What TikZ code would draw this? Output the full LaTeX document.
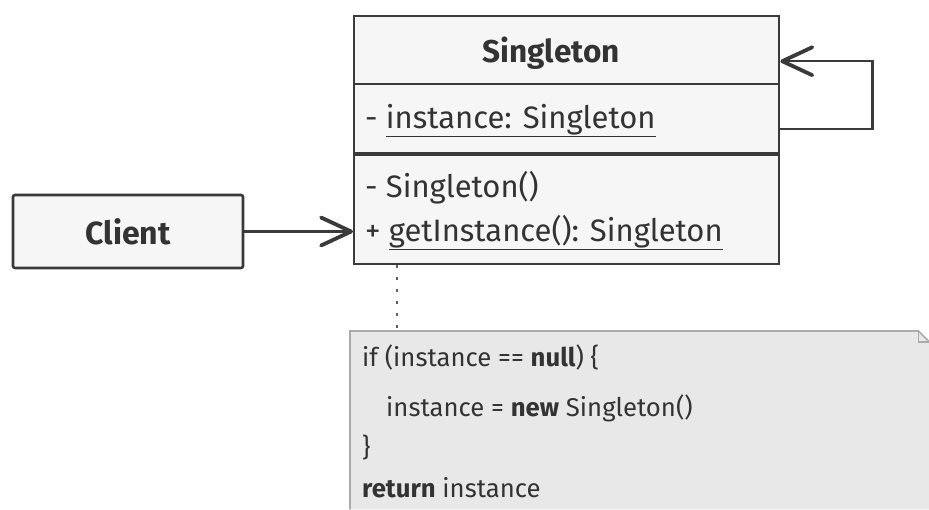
\documentclass[tikz,border=0pt]{standalone}
\usepackage{fontspec}
\setmainfont{Fira Sans}
\usetikzlibrary{arrows.meta}
\definecolor{edge}{HTML}{3A3A3A}
\definecolor{boxfill}{HTML}{F6F6F6}
\definecolor{notefill}{HTML}{E8E8E8}
\definecolor{noteedge}{HTML}{ABABAB}
\definecolor{ink}{HTML}{333333}
\tikzset{
  compartment/.style={draw=edge, fill=boxfill, line width=2.4pt, anchor=north west,
    inner sep=0pt, minimum width=425pt},
  member/.style={anchor=base west, inner sep=0pt, text=ink, font=\fontsize{31}{37}\selectfont},
  codeline/.style={anchor=base west, inner sep=0pt, text=ink, font=\fontsize{25.7}{31}\selectfont},
  assoc/.style={draw=edge, line width=2.2pt,
    -{Straight Barb[length=30pt, width=28pt, line width=3.8pt, round]}},
  dotline/.style={draw=edge!80, line width=2pt, dash pattern=on 3pt off 9pt}
}
\begin{document}
\begin{tikzpicture}[x=1pt, y=-1pt]
\useasboundingbox (0,0) rectangle (929,509);
\fill[white] (0,0) rectangle (929,509);

% Singleton class with its three compartments
\node[compartment, minimum height=68pt] (head) at (353,15) {};
\node[compartment, minimum height=69pt] (attr) at (353,83) {};
\node[compartment, minimum height=111pt] (ops) at (353,152) {};
\draw[edge, line width=3.2pt] (attr.south west) -- (attr.south east);

\node[anchor=base, inner sep=0pt, text=ink, font=\fontsize{31.5}{37}\selectfont\bfseries]
  (title) at (551,62) {Singleton};
\node[member] (field) at (365,128) {- \underline{instance: Singleton}};
\node[member] (ctor) at (365,197) {- Singleton()};
\node[member] (getter) at (365,241) {+ \underline{getInstance(): Singleton}};

% Client class
\node[draw=edge, fill=boxfill, line width=2.6pt, rounded corners=2pt,
  minimum width=230pt, minimum height=73pt, inner sep=0pt, text=ink,
  font=\fontsize{32}{38}\selectfont\bfseries] (client) at (128,231.5) {Client};

% Associations
\draw[assoc] (client.east) -- (client.east -| ops.west);
\draw[assoc] ([yshift=-10pt]attr.east) -- ++(92,0) |- ([yshift=-11pt]head.east);

% Note with folded corner
\node[anchor=north west, inner sep=0pt, minimum width=579pt, minimum height=178pt] (note) at (350,331) {};
\fill[notefill] (note.north west) -- ([xshift=-11pt]note.north east)
  -- ([yshift=-11pt]note.north east) -- (note.south east) -- (note.south west) -- cycle;
\draw[noteedge, line width=1.6pt] (note.south west) -- (note.north west)
  -- ([xshift=-11pt]note.north east) -- ([yshift=-11pt]note.north east);
\draw[noteedge, line width=1.2pt] ([xshift=-11pt]note.north east) |- ([yshift=-11pt]note.north east);

\node[codeline] (c1) at (362,366) {if (instance == \textbf{null}) \{};
\node[codeline] (c2) at (386,416) {instance = \textbf{new} Singleton()};
\node[codeline] (c3) at (362,456) {\}};
\node[codeline] (c4) at (362,497) {\textbf{return} instance};

% Note anchor line
\draw[dotline] ([xshift=44pt]ops.south west) -- ([xshift=47pt]note.north west);
\end{tikzpicture}
\end{document}
